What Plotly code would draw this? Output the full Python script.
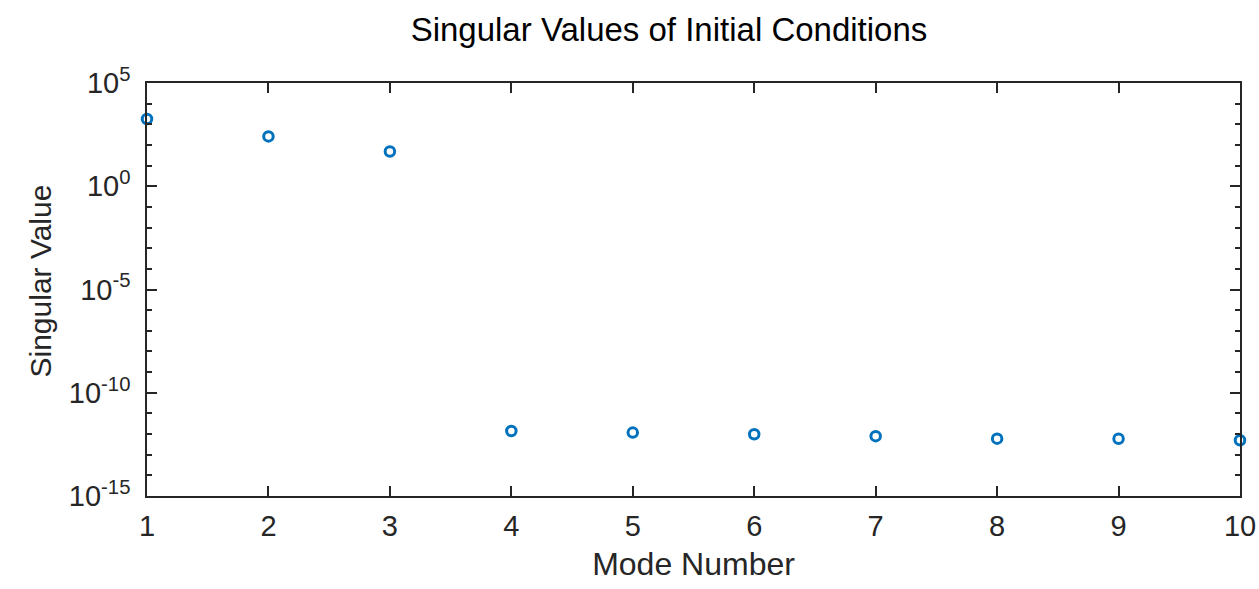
import plotly.graph_objects as go

mode_number = [1, 2, 3, 4, 5, 6, 7, 8, 9, 10]
singular_value = [1800, 260, 48, 1.4e-12, 1.18e-12, 9.8e-13, 7.9e-13, 6.0e-13, 5.9e-13, 5.0e-13]

x_ticks = [1, 2, 3, 4, 5, 6, 7, 8, 9, 10]
y_tick_vals = [1e-15, 1e-10, 1e-5, 1e0, 1e5]
y_tick_text = ["10<sup>-15</sup>", "10<sup>-10</sup>", "10<sup>-5</sup>", "10<sup>0</sup>", "10<sup>5</sup>"]
y_minor_vals = [10.0 ** e for e in range(-15, 6)]

FONT = "Liberation Sans, Arial, Helvetica, sans-serif"
AX = "#262626"

fig = go.Figure(
    go.Scatter(
        x=mode_number, y=singular_value, mode="markers",
        marker=dict(symbol="circle-open", size=9.5, color="#0072BD",
                    line=dict(width=3, color="#0072BD")),
        cliponaxis=False, showlegend=False,
    )
)

fig.update_layout(
    width=1259, height=589,
    margin=dict(l=147, r=19, t=83, b=93),
    paper_bgcolor="white", plot_bgcolor="white",
    font=dict(family=FONT, color=AX),
    title=dict(text="Singular Values of Initial Conditions", x=669 / 1259, xanchor="center",
               y=1 - 29 / 589, yanchor="middle", font=dict(size=33, color="black")),
    annotations=[dict(
        text="Singular Value", textangle=-90, showarrow=False,
        xref="paper", yref="paper", x=0, y=0.5, xanchor="center", yanchor="middle",
        xshift=-107, yshift=8, font=dict(size=30, color=AX),
    )],
)
fig.update_xaxes(
    range=[1, 10], tickvals=x_ticks, ticks="inside", ticklen=10, tickwidth=1.5,
    tickcolor=AX, showline=True, linecolor=AX, linewidth=1.5, mirror="ticks",
    showgrid=False, zeroline=False, tickfont=dict(size=29, color=AX),
    ticklabelstandoff=3, automargin=False,
    title=dict(text="Mode Number", font=dict(size=32, color=AX), standoff=12),
)
fig.update_yaxes(
    type="log", range=[-15, 5], tickvals=y_tick_vals, ticktext=y_tick_text,
    ticks="inside", ticklen=10, tickwidth=1.5, tickcolor=AX,
    minor=dict(tickvals=y_minor_vals, ticks="inside", ticklen=5, tickwidth=1.5, tickcolor=AX),
    showline=True, linecolor=AX, linewidth=1.5, mirror="ticks",
    showgrid=False, zeroline=False, tickfont=dict(size=29, color=AX),
    ticklabelstandoff=9, automargin=False,
)

fig.write_html("out.html")
